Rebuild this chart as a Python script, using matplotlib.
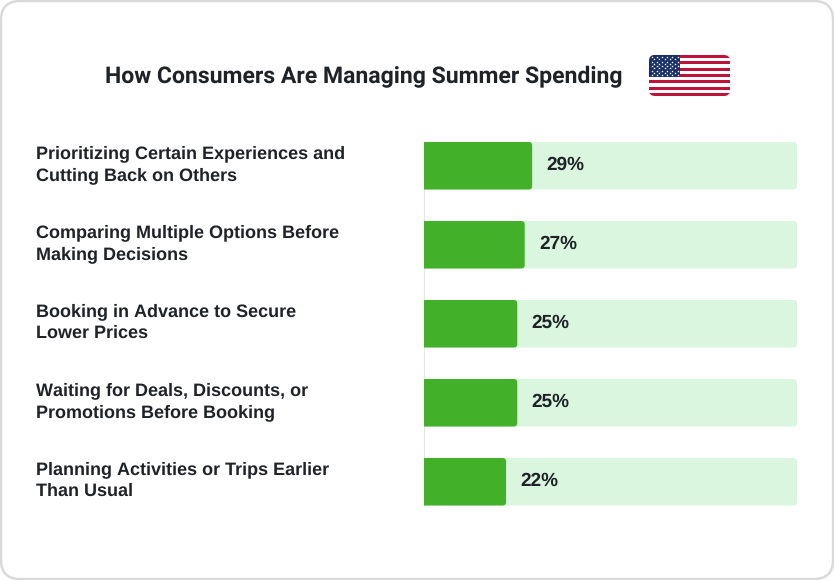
#!/usr/bin/env python3
"""Horizontal bars: how consumers are managing summer spending."""

import matplotlib
matplotlib.use("Agg")
import matplotlib.pyplot as plt
import numpy as np
from matplotlib.patches import FancyBboxPatch, Rectangle
from matplotlib.transforms import ScaledTranslation

plt.rcParams["text.hinting"] = "no_hinting"
plt.rcParams["text.hinting_factor"] = 1

W, H = 834, 580

categories = [
    "Prioritizing Certain Experiences and\nCutting Back on Others",
    "Comparing Multiple Options Before\nMaking Decisions",
    "Booking in Advance to Secure\nLower Prices",
    "Waiting for Deals, Discounts, or\nPromotions Before Booking",
    "Planning Activities or Trips Earlier\nThan Usual",
]
values = [29, 27, 25, 25, 22]
track_max = 100

GREEN = "#43b02a"
TRACK = "#dbf6df"
INK = "#1f2328"

fig = plt.figure(figsize=(W / 100, H / 100), dpi=100, facecolor="white")

# Full-figure layer in pixel coordinates for the card, title and flag
bg = fig.add_axes([0, 0, 1, 1])
bg.set_xlim(0, W)
bg.set_ylim(H, 0)
bg.axis("off")
bg.add_patch(FancyBboxPatch((1, 1), W - 2, H - 2, boxstyle="round,pad=0,rounding_size=19",
                            facecolor="white", edgecolor="#d9d9d9", linewidth=1.7))

bg.text(105, 83, "How Consumers Are Managing Summer Spending", fontsize=16.72,
        fontfamily="Roboto", fontweight="bold", color=INK, ha="left", va="baseline")

# Flag
fx0, fx1, fy0, fy1 = 649, 730, 55, 96
clip = FancyBboxPatch((fx0, fy0), fx1 - fx0, fy1 - fy0, boxstyle="round,pad=0,rounding_size=6",
                      facecolor="white", edgecolor="none")
bg.add_patch(clip)
stripe_h = (fy1 - fy0) / 13
for i in range(0, 13, 2):
    stripe = Rectangle((fx0, fy0 + i * stripe_h), fx1 - fx0, stripe_h,
                       facecolor="#bf1238", edgecolor="none")
    bg.add_patch(stripe)
    stripe.set_clip_path(clip)
canton = Rectangle((fx0, fy0), 31, 7 * stripe_h, facecolor="#172f68", edgecolor="none")
bg.add_patch(canton)
canton.set_clip_path(clip)
for row in range(9):
    n = 6 if row % 2 == 0 else 5
    off = 2.6 if row % 2 == 0 else 5.2
    sx = fx0 + off + np.arange(n) * 5.2
    sy = np.full(n, fy0 + 2.2 + row * 2.25)
    bg.scatter(sx, sy, s=3.5, marker="*", color="white", linewidths=0, zorder=5)

# Bars, laid out so each row is 79 px apart
x0, x1, y0, y1 = 424, 797, 142, 505.5
row_px = 79
bar_px = 47.5
ax = fig.add_axes([x0 / W, 1 - y1 / H, (x1 - x0) / W, (y1 - y0) / H])
ax.patch.set_alpha(0)
ax.set_xlim(0, track_max)
top = -(bar_px / 2) / row_px
ax.set_ylim(top + (y1 - y0) / row_px, top)

y = np.arange(len(values))
bar_h = bar_px / row_px
x_px = (x1 - x0) / track_max
radius = 3.5 / x_px
aspect = x_px / row_px

# Both bars start left of the axis so only their right corners show as rounded
for yi, v in zip(y, values):
    ax.add_patch(FancyBboxPatch((-5, yi - bar_h / 2), track_max + 5, bar_h,
                                boxstyle=f"round,pad=0,rounding_size={radius}",
                                mutation_aspect=aspect, facecolor=TRACK, edgecolor="none"))
    ax.add_patch(FancyBboxPatch((-5, yi - bar_h / 2), v + 5, bar_h,
                                boxstyle=f"round,pad=0,rounding_size={radius}",
                                mutation_aspect=aspect, facecolor=GREEN, edgecolor="none"))
    ax.annotate(f"{v}%", xy=(v, yi), xytext=(10.4, 0.7), textcoords="offset points",
                fontsize=13.4, fontfamily="Liberation Sans", fontweight="bold",
                color=INK, ha="left", va="center")

ax.set_xticks([])
ax.set_yticks(y)
ax.set_yticklabels(categories)
ax.tick_params(axis="y", length=0, pad=(x0 - 36) * 0.72)
nudge = ScaledTranslation(0, 0.06, fig.dpi_scale_trans)
for label in ax.get_yticklabels():
    label.set_ha("left")
    label.set_fontfamily("Liberation Sans")
    label.set_fontweight("bold")
    label.set_fontsize(12.95)
    label.set_color(INK)
    label.set_linespacing(1.39)
    label.set_transform(label.get_transform() + nudge)

for side in ["top", "right", "bottom"]:
    ax.spines[side].set_visible(False)
ax.spines["left"].set_color("#e6e6e6")
ax.spines["left"].set_linewidth(0.8)
ax.spines["left"].set_zorder(0.5)

fig.savefig("out.png", dpi=100)
